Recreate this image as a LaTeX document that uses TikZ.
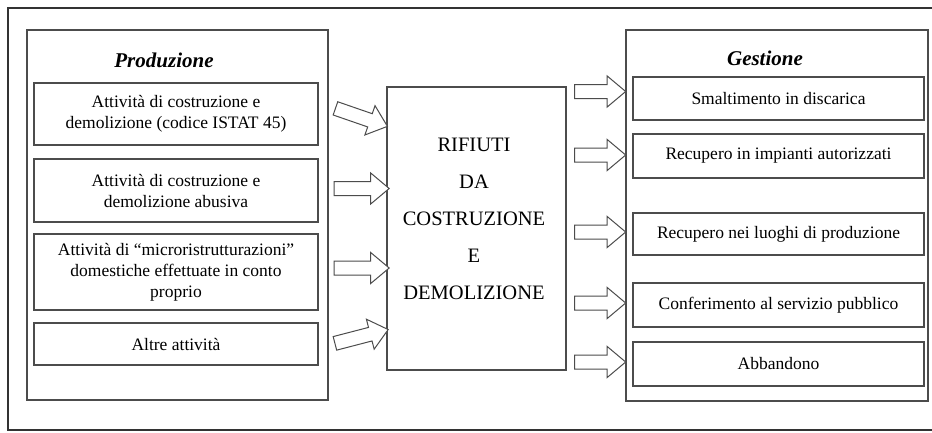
\documentclass[tikz,border=0pt]{standalone}
\usepackage{fontspec}
\setmainfont{Liberation Serif}
\usetikzlibrary{shapes.arrows, positioning, calc}

\begin{document}
\begin{tikzpicture}[x=1pt,y=-1pt,
    panel/.style={draw=black!70,line width=1.2pt},
    box/.style={draw=black!70,line width=1.2pt,align=center,inner sep=0pt,
        font=\fontsize{17.5}{21}\selectfont},
    title/.style={font=\fontsize{21}{24}\selectfont\bfseries\itshape},
    bigarrow/.style={single arrow,draw=black!70,line width=1pt,fill=white,
        minimum height=55pt,inner xsep=0pt,inner ysep=6.5pt,
        single arrow head extend=8.5pt,single arrow tip angle=80,sloped}]
    \fill[white] (0,0) rectangle (932,432);
    \useasboundingbox (0,0) rectangle (932,432);
    \draw[black!80,line width=1.5pt] (932,8) -- (8,8) -- (8,430) -- (932,430);

    % produzione
    \node[panel,minimum width=301pt,minimum height=370pt] (prod) at (177.5,215) {};
    \node[title] (prodt) at (164,60) {Produzione};
    \node[box,minimum width=284pt,minimum height=62pt] (b1) at (176,114)
        {Attività di costruzione e\\demolizione (codice ISTAT 45)};
    \node[box,minimum width=284pt,minimum height=63pt] (b2) at (176,190.5)
        {Attività di costruzione e\\demolizione abusiva};
    \node[box,minimum width=284pt,minimum height=76pt] (b3) at (176,272)
        {Attività di “microristrutturazioni”\\domestiche effettuate in conto\\proprio};
    \node[box,minimum width=284pt,minimum height=42pt] (b4) at (176,344)
        {Altre attività};

    % rifiuti
    \node[panel,minimum width=179pt,minimum height=283pt] (rif) at (476.5,228.5) {};
    \node[align=center,font=\fontsize{20.5}{37}\selectfont] (rift) at (474,219)
        {RIFIUTI\\DA\\COSTRUZIONE\\E\\DEMOLIZIONE};

    % gestione
    \node[panel,minimum width=302pt,minimum height=371pt] (gest) at (777,215.5) {};
    \node[title] (gestt) at (765,58) {Gestione};
    \node[box,minimum width=291pt,minimum height=43pt] (g1) at (778.5,98.5)
        {Smaltimento in discarica};
    \node[box,minimum width=291pt,minimum height=44pt] (g2) at (778.5,156)
        {Recupero in impianti autorizzati};
    \node[box,minimum width=291pt,minimum height=42pt] (g3) at (778.5,234)
        {Recupero nei luoghi di produzione};
    \node[box,minimum width=291pt,minimum height=44pt] (g4) at (778.5,305)
        {Conferimento al servizio pubblico};
    \node[box,minimum width=291pt,minimum height=44pt] (g5) at (778.5,364)
        {Abbandono};

    % frecce
    \path ($(b1 -| prod.east)+(0,-8)$) -- node[bigarrow] (a1) {} ($(b1 -| rif.west)+(0,12)$);
    \path ($(b2 -| prod.east)+(0,-2)$) -- node[bigarrow] (a2) {} ($(b2 -| rif.west)+(0,-2)$);
    \path ($(b3 -| prod.east)+(0,-4)$) -- node[bigarrow] (a3) {} ($(b3 -| rif.west)+(0,-4)$);
    \path ($(b4 -| prod.east)+(0,1)$) -- node[bigarrow] (a4) {} ($(b4 -| rif.west)+(0,-14)$);

    \path ($(g1 -| rif.east)+(0,-7)$) -- node[bigarrow,minimum height=51pt] (r1) {} ($(g1 -| gest.west)+(0,-7)$);
    \path ($(g2 -| rif.east)+(0,-1)$) -- node[bigarrow,minimum height=51pt] (r2) {} ($(g2 -| gest.west)+(0,-1)$);
    \path ($(g3 -| rif.east)+(0,-2)$) -- node[bigarrow,minimum height=51pt] (r3) {} ($(g3 -| gest.west)+(0,-2)$);
    \path ($(g4 -| rif.east)+(0,-2)$) -- node[bigarrow,minimum height=51pt] (r4) {} ($(g4 -| gest.west)+(0,-2)$);
    \path ($(g5 -| rif.east)+(0,-2)$) -- node[bigarrow,minimum height=51pt] (r5) {} ($(g5 -| gest.west)+(0,-2)$);
\end{tikzpicture}
\end{document}
